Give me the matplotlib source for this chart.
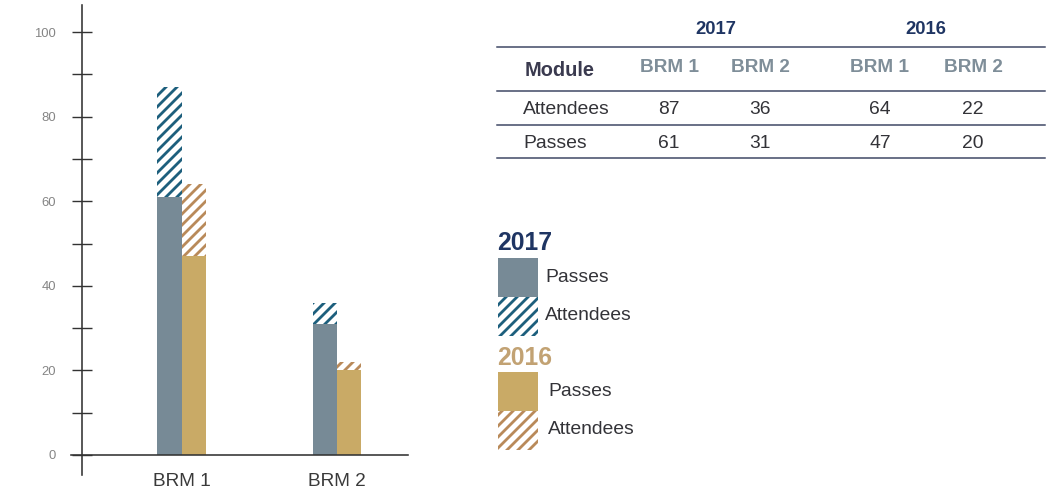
import matplotlib
matplotlib.use("Agg")
import matplotlib.pyplot as plt
from matplotlib.patches import Rectangle
from matplotlib.transforms import blended_transform_factory

# 모듈별 수강/합격 인원
modules = ["BRM 1", "BRM 2"]
years = ["2017", "2016"]
attendees_2017 = [87, 36]
passes_2017 = [61, 31]
attendees_2016 = [64, 22]
passes_2016 = [47, 20]
row_labels = ["Attendees", "Passes"]

W, H = 1058, 490
DPI = 132
HATCH = "////"  # 이 DPI에서 약 11px 간격의 사선


def px(size):
    """픽셀 단위 글자 크기 -> 포인트"""
    return size * 72 / DPI


plt.rcParams["font.family"] = ["Liberation Sans", "DejaVu Sans"]
plt.rcParams["hatch.linewidth"] = px(2.8)

C17_PASS = "#778a96"
C17_HATCH = "#1d5f7d"
C16_PASS = "#c9aa66"
C16_HATCH = "#b98a5a"
NAVY = "#1f3563"
GOLD = "#c2a273"
LINE = "#3c4563"
TEXT = "#333338"

fig = plt.figure(figsize=(W / DPI, H / DPI), dpi=DPI)

# ---- 막대그래프 ----
ax = fig.add_axes([82 / W, (H - 475) / H, (408 - 82) / W, (475 - 5) / H])
ax.set_facecolor("none")
ax.set_xlim(-0.645, 1.458)
ax.set_ylim(-4.73, 106.4)

bw = 0.158
xs = range(len(modules))
x17 = [x - bw / 2 for x in xs]
x16 = [x + bw / 2 for x in xs]
ax.bar(x17, passes_2017, width=bw, color=C17_PASS, linewidth=0)
ax.bar(x17, [a - p for a, p in zip(attendees_2017, passes_2017)], bottom=passes_2017,
       width=bw, facecolor="white", edgecolor=C17_HATCH, linewidth=0, hatch=HATCH)
ax.bar(x16, passes_2016, width=bw, color=C16_PASS, linewidth=0)
ax.bar(x16, [a - p for a, p in zip(attendees_2016, passes_2016)], bottom=passes_2016,
       width=bw, facecolor="white", edgecolor=C16_HATCH, linewidth=0, hatch=HATCH)

for s in ["top", "right", "bottom"]:
    ax.spines[s].set_visible(False)
ax.spines["left"].set_color("#333333")
ax.spines["left"].set_linewidth(px(1.6))
ax.axhline(0, xmin=-11 / 326, xmax=1, color="#333333", linewidth=px(1.6), clip_on=False)

ax.set_yticks(range(0, 101, 20))
ax.set_yticks(range(10, 100, 20), minor=True)
ax.tick_params(axis="y", which="both", direction="inout", length=px(20), width=px(1.4),
               color="#333333", pad=px(16), labelsize=px(13), labelcolor="#858585")
ax.set_xticks([])

tr = blended_transform_factory(ax.transData, ax.transAxes)
for x, name in zip(xs, modules):
    ax.text(x, -6 / 470, name, transform=tr, ha="center", va="center",
            fontsize=px(19), color="#3a3a3a")

# ---- 표와 범례 (픽셀 좌표) ----
ov = fig.add_axes([0, 0, 1, 1])
ov.set_xlim(0, W)
ov.set_ylim(H, 0)
ov.axis("off")

for y in [46.5, 91, 124.5, 158]:
    ov.plot([497, 1045], [y, y], color=LINE, linewidth=px(1.5))

year_x = [716, 926]
col_x = [669, 760, 880, 973]
for x, yr in zip(year_x, years):
    ov.text(x, 30, yr, ha="center", va="center", fontsize=px(18.5),
            fontweight="bold", color=NAVY)
ov.text(560, 71, "Module", ha="center", va="center", fontsize=px(20),
        fontweight="bold", color="#3a3a4f")
for x, name in zip(col_x, modules * 2):
    ov.text(x, 68, name, ha="center", va="center", fontsize=px(19),
            fontweight="bold", color="#7f8e99")

rows = [attendees_2017 + attendees_2016, passes_2017 + passes_2016]
for y, label, vals in zip([109, 144], row_labels, rows):
    ov.text(523, y, label, ha="left", va="center", fontsize=px(19.3), color=TEXT)
    for x, v in zip(col_x, vals):
        ov.text(x, y, str(v), ha="center", va="center", fontsize=px(19.3), color=TEXT)

# 범례
legend_items = [
    ("2017", NAVY, C17_PASS, C17_HATCH, 243, 258, 545),
    ("2016", GOLD, C16_PASS, C16_HATCH, 358, 372, 548),
]
for yr, ycol, pcol, hcol, ty, top, lx in legend_items:
    ov.text(497, ty, yr, ha="left", va="center", fontsize=px(24.7),
            fontweight="bold", color=ycol)
    ov.add_patch(Rectangle((498, top), 40, 39, facecolor=pcol, linewidth=0))
    ov.add_patch(Rectangle((498, top + 39), 40, 39, facecolor="white",
                           edgecolor=hcol, linewidth=0, hatch=HATCH))
    ov.text(lx, top + 19, "Passes", ha="left", va="center", fontsize=px(19.3), color=TEXT)
    ov.text(lx, top + 58, "Attendees", ha="left", va="center", fontsize=px(19.3), color=TEXT)

fig.savefig("out.png", dpi=DPI)
